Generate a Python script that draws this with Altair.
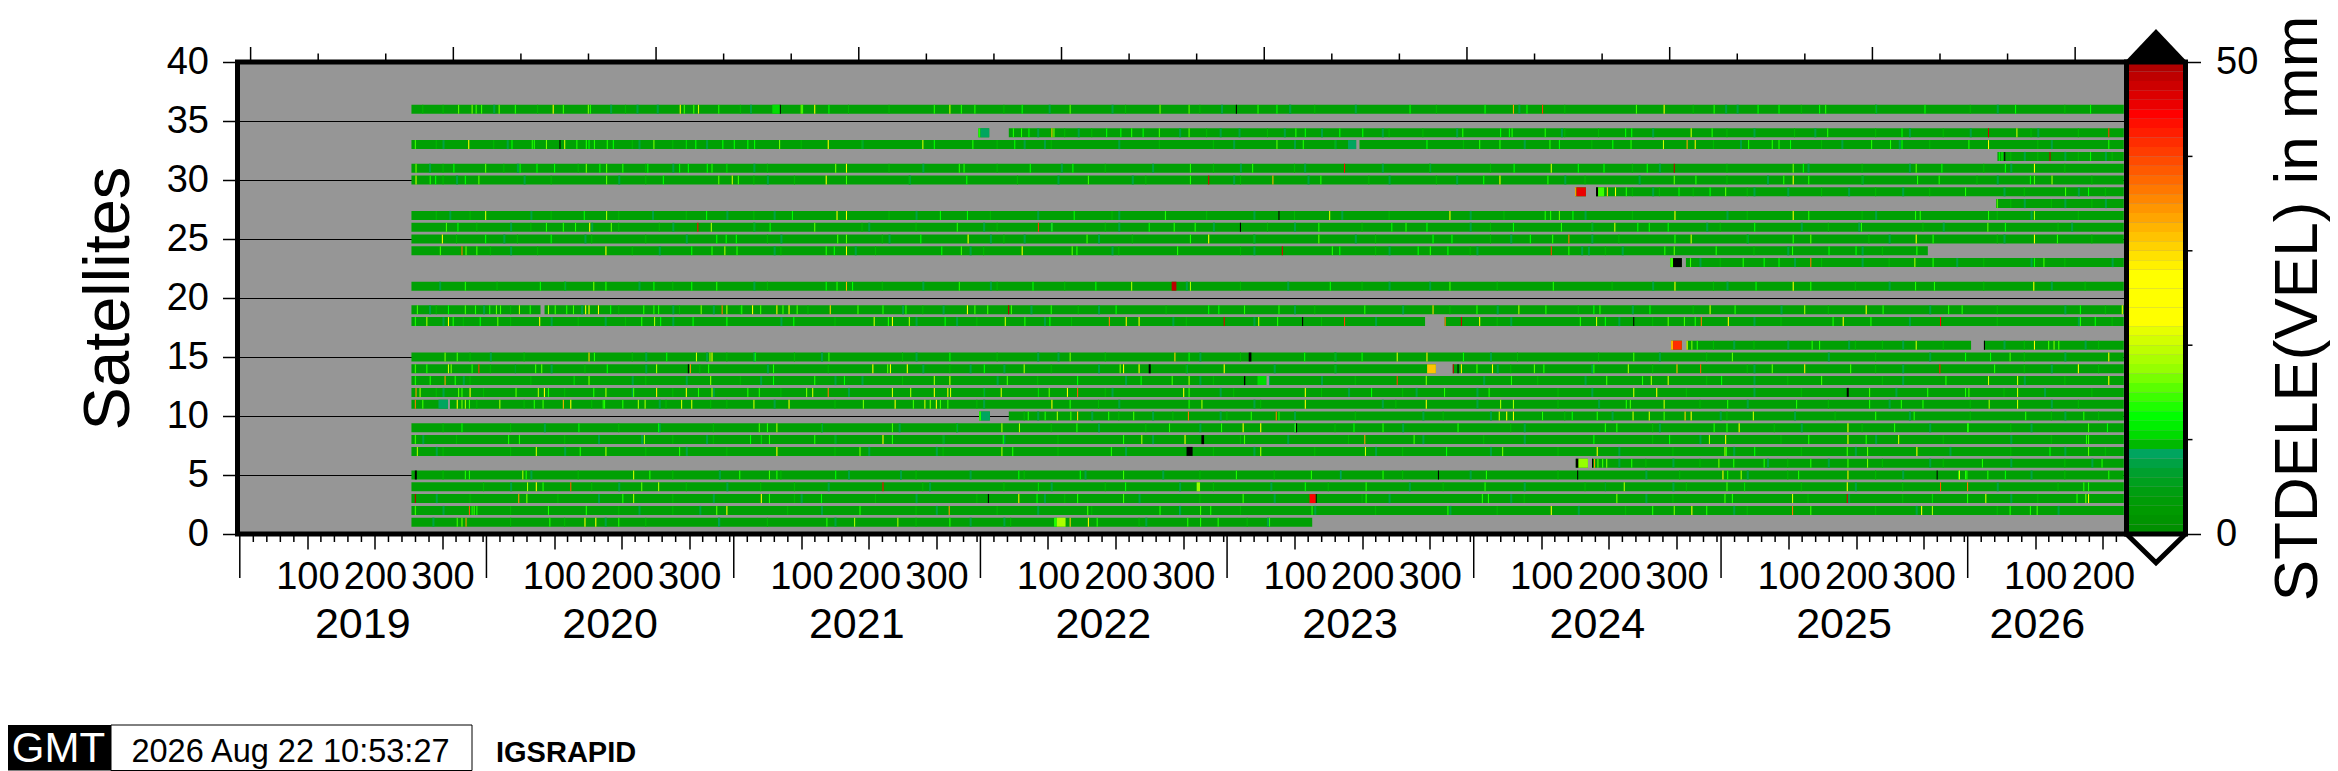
import altair as alt
import pandas as pd

FONT = "Liberation Sans"
LAST = 2788
FIRST = 254

colors = ["#009000","#009400","#009A00","#00A004","#00A010","#00A01E","#00A02E","#00A244","#00A55F","#00B900",
          "#00DC00","#00F000","#00FF00","#1EFF00","#3CFF00","#5AFF00","#78FF00","#96FF00","#AAFF00","#BEFF00",
          "#D2FF00","#E6FF00","#FFFF00","#FFFF00","#FFFF00","#FFFF00","#FFFF00","#FFFF00","#FFF000","#FFE100",
          "#FFD200","#FFC300","#FFB400","#FFA500","#FF9600","#FF8700","#FF7800","#FF6900","#FF5A00","#FF4B00",
          "#FF3C00","#FF2D00","#FF1E00","#FF0F00","#FF0000","#EB0000","#DC0000","#CD0000","#BE0000","#AF0000","#000000"]
thresholds = list(range(1, 51))

spans = {
    36: [(FIRST, LAST)], 34: [(1093, 1109), (1138, LAST)], 33: [(FIRST, 1652), (1657, LAST)], 32: [(2601, LAST)],
    31: [(FIRST, LAST)], 30: [(FIRST, LAST)], 29: [(1976, 1992), (2007, LAST)], 28: [(2599, LAST)],
    27: [(FIRST, LAST)], 26: [(FIRST, LAST)], 25: [(FIRST, LAST)], 24: [(FIRST, 2498)],
    23: [(2117, 2134), (2140, LAST)], 21: [(FIRST, LAST)], 19: [(FIRST, 445), (451, LAST)],
    18: [(FIRST, 1754), (1783, LAST)], 16: [(2118, 2134), (2141, 2562), (2581, LAST)], 15: [(FIRST, LAST)],
    14: [(FIRST, 1770), (1795, LAST)], 13: [(FIRST, 1519), (1523, LAST)], 12: [(FIRST, LAST)],
    11: [(FIRST, 308), (311, LAST)], 10: [(1094, 1110), (1138, LAST)], 9: [(FIRST, LAST)], 8: [(FIRST, LAST)],
    7: [(FIRST, LAST)], 6: [(1977, 1995), (2001, LAST)], 5: [(FIRST, LAST)], 4: [(FIRST, LAST)], 3: [(FIRST, LAST)],
    2: [(FIRST, LAST)], 1: [(FIRST, 1587)],
}

blocks = [
    (36, 788, 799, 10), (34, 1093, 1096, 13), (34, 1096, 1109, 8), (33, 1640, 1652, 8),
    (29, 1976, 1978, 33), (29, 1978, 1992, 45), (29, 2007, 2010, 53), (29, 2010, 2019, 14),
    (23, 2117, 2121, 14), (23, 2121, 2134, 54), (21, 1379, 1386, 48), (16, 2118, 2121, 32), (16, 2121, 2134, 41),
    (15, 1493, 1497, 53), (14, 1757, 1770, 31), (14, 1345, 1348, 53), (13, 1486, 1488, 53), (13, 1506, 1519, 10),
    (12, 2378, 2381, 53), (11, 294, 308, 8), (10, 1094, 1097, 13), (10, 1097, 1110, 8), (8, 1423, 1427, 53),
    (7, 1401, 1410, 53), (6, 1977, 1981, 53), (6, 1981, 1995, 17), (5, 259, 262, 53), (4, 1416, 1421, 17),
    (3, 1583, 1592, 44), (1, 1205, 1209, 13), (1, 1209, 1222, 18),
]

s36 = [(323,15),(343,16),(349,14),(357,14),(383,16),(407,13),(463,24),(478,14),(515,16),(518,13),(651,22),(657,14),(671,14),(678,20),(708,13),(799,52),(830,16),(832,14),(850,22),(871,12),(1027,13),(1050,20),(1067,13),(1087,13),(1157,12),(1228,15),(1361,16),(1404,15),(1474,50),(1506,13),(1534,12),(1553,7),(1731,12),(1842,12),(1884,33),(1904,12),(1927,40),(2066,14),(2107,22),(2181,13),(2246,12),(2277,12),(2337,12),(2346,13),(2493,12),(2627,12),(2738,12)]
s34 = [(1144,13),(1156,13),(1167,12),(1201,30),(1204,16),(1282,12),(1303,12),(1319,13),(1336,12),(1360,14),(1404,15),(1562,13),(1576,12),(1627,12),(1661,12),(1809,13),(1865,12),(1878,12),(1882,13),(1931,13),(2050,12),(2059,12),(2147,20),(2178,13),(2349,13),(2459,12),(2587,47),(2629,20),(2765,40)]
s33 = [(259,14),(338,25),(402,12),(432,13),(435,13),(453,16),(473,52),(480,20),(498,13),(512,13),(516,12),(524,13),(543,13),(552,12),(612,16),(660,10),(674,12),(714,12),(731,12),(751,12),(761,12),(798,16),(870,25),(1010,20),(1027,12),(1084,13),(1146,12),(1534,15),(1573,13),(1756,12),(1834,13),(1864,13),(1938,13),(1952,12),(2031,12),(2058,13),(2106,20),(2141,33),(2153,28),(2232,13),(2267,13),(2277,13),(2294,12),(2414,13),(2442,13),(2459,12),(2558,13),(2587,25),(2765,13)]
s32 = [(2603,12),(2607,12),(2611,52),(2678,48),(2738,12)]
s31 = [(260,16),(316,12),(363,15),(414,12),(439,12),(465,12),(512,16),(532,12),(542,15),(566,13),(603,12),(650,12),(663,12),(691,12),(698,13),(720,10),(881,16),(897,22),(1064,13),(1071,13),(1169,12),(1232,12),(1406,13),(1498,13),(1634,44),(1885,12),(1940,20),(1980,12),(2018,12),(2082,12),(2122,48),(2298,16),(2313,12),(2480,15),(2518,12),(2612,12),(2655,25)]
s30 = [(260,20),(281,13),(289,12),(333,12),(353,15),(542,15),(626,12),(708,15),(728,20),(737,14),(867,22),(897,14),(1075,12),(1255,14),(1406,13),(1433,46),(1528,32),(1599,13),(1840,12),(1864,24),(1935,13),(2122,15),(2154,13),(2284,13),(2298,26),(2321,13),(2482,13),(2514,13),(2649,12),(2655,14),(2681,18)]
s29 = [(2023,30),(2035,22),(2051,13),(2129,12),(2175,12),(2198,15),(2553,13),(2701,14),(2735,12)]
s28 = [(2600,15)]
s27 = [(363,20),(509,12),(542,18),(690,12),(817,12),(883,25),(897,24),(1036,12),(1076,12),(1234,12),(1369,13),(1537,52),(1612,20),(1790,22),(1931,13),(1939,13),(1952,15),(1972,12),(2123,26),(2298,26),(2321,13),(2479,13),(2486,13),(2587,13),(2655,18)]
s26 = [(305,14),(322,12),(453,13),(478,13),(496,13),(517,22),(549,15),(677,44),(697,18),(784,12),(850,15),(1061,13),(1181,40),(1201,13),(1345,12),(1382,13),(1413,13),(1480,52),(1596,13),(1704,12),(1725,13),(1756,12),(1884,12),(1955,13),(2034,20),(2068,12),(2085,12),(2113,12),(2241,12),(2399,13),(2586,15),(2612,12)]
s25 = [(299,24),(363,12),(460,12),(705,12),(719,12),(734,12),(884,14),(897,15),(1007,12),(1077,24),(1253,14),(1406,13),(1433,22),(1596,15),(1765,12),(1793,12),(1909,12),(1942,13),(1966,36),(2123,13),(2147,20),(2298,13),(2324,15),(2480,24),(2505,13),(2655,24),(2689,13)]
s24 = [(296,14),(328,36),(334,15),(350,14),(541,24),(668,12),(698,13),(717,18),(735,13),(867,13),(879,12),(897,22),(1038,12),(1067,14),(1157,24),(1231,15),(1238,13),(1387,13),(1542,46),(1616,13),(1627,12),(1743,12),(1761,13),(1787,12),(1940,40),(1966,13),(2108,13),(2122,15),(2184,13),(2297,13),(2351,12),(2391,12),(2481,13)]
s23 = [(2146,14),(2224,13),(2255,12),(2277,12),(2324,36),(2478,18),(2505,13),(2655,12),(2669,14)]
s21 = [(333,13),(444,12),(523,16),(541,13),(612,12),(668,12),(705,13),(867,12),(883,13),(897,32),(906,12),(1064,13),(1173,12),(1266,12),(1319,18),(1406,18),(1613,12),(1790,14),(1943,13),(2123,24),(2243,12),(2298,24),(2324,13),(2479,13),(2507,13),(2654,26)]
s19 = [(262,14),(308,12),(333,14),(348,13),(369,13),(379,15),(385,14),(413,18),(429,13),(456,18),(466,14),(483,13),(493,14),(511,24),(516,22),(530,24),(548,12),(597,13),(612,13),(619,13),(682,16),(713,36),(720,18),(742,13),(758,22),(770,14),(794,28),(803,14),(812,24),(824,14),(873,30),(914,14),(951,13),(985,13),(1076,24),(1087,14),(1106,14),(1137,48),(1141,14),(1200,13),(1296,12),(1433,12),(1448,12),(1486,13),(1537,13),(1664,13),(1765,30),(1830,13),(1892,18),(1932,13),(2003,12),(2012,13),(2086,12),(2175,20),(2212,13),(2315,18),(2406,22),(2431,13),(2528,13),(2548,13),(2723,12),(2785,22)]
s18 = [(259,13),(276,18),(308,24),(315,13),(355,12),(381,15),(443,22),(594,13),(613,18),(622,12),(670,12),(720,12),(819,12),(938,20),(959,13),(965,24),(990,18),(1043,12),(1132,20),(1161,13),(1198,12),(1286,36),(1311,28),(1330,24),(1456,46),(1507,20),(1535,13),(1572,52),(1634,40),(1783,36),(1807,47),(1834,22),(1983,13),(2007,20),(2020,12),(2062,50),(2113,15),(2137,14),(2153,13),(2162,36),(2202,22),(2357,13),(2372,24),(2413,13),(2516,44),(2723,13),(2745,12)]
s16 = [(2141,24),(2148,16),(2156,13),(2326,13),(2337,13),(2480,20),(2581,50),(2655,24),(2676,14),(2684,16),(2691,14)]
s15 = [(303,16),(321,14),(516,30),(524,13),(631,12),(675,20),(695,18),(698,22),(762,12),(871,14),(1050,12),(1228,16),(1383,30),(1404,12),(1575,12),(1660,12),(1712,20),(1756,28),(1810,12),(2062,14),(2208,15),(2553,12),(2590,12),(2619,14),(2765,22)]
s14 = [(259,14),(276,13),(308,20),(312,16),(343,13),(353,40),(407,6),(437,14),(446,15),(543,12),(616,18),(663,54),(666,34),(693,13),(789,13),(936,24),(958,15),(962,22),(987,24),(1101,12),(1160,18),(1302,16),(1307,24),(1330,22),(1456,26),(1795,48),(1802,52),(1807,28),(1830,14),(1853,26),(1915,15),(1929,13),(2003,13),(2054,18),(2126,32),(2161,38),(2267,15),(2315,28),(2383,14),(2515,42),(2596,13),(2720,24)]
s13 = [(259,13),(281,13),(303,34),(318,13),(494,10),(516,16),(696,17),(789,12),(850,13),(894,12),(1027,18),(1050,20),(1135,14),(1239,12),(1333,12),(1379,14),(1404,18),(1523,8),(1712,40),(1755,16),(1881,13),(2022,14),(2075,13),(2088,18),(2113,20),(2192,12),(2340,14),(2524,13),(2587,20),(2630,20),(2765,22)]
s12 = [(260,34),(266,18),(323,15),(328,14),(340,26),(408,15),(441,18),(450,22),(456,13),(523,13),(541,18),(582,14),(616,28),(660,22),(678,13),(698,18),(751,13),(768,13),(838,16),(847,20),(870,36),(965,20),(992,18),(1027,22),(1047,24),(1051,20),(1126,20),(1181,10),(1197,15),(1224,24),(1239,38),(1396,22),(1404,14),(1576,24),(1674,12),(1782,13),(1848,13),(2062,20),(2096,24),(2411,14),(2497,13),(2553,13),(2558,14),(2630,20)]
s11 = [(259,36),(270,14),(321,24),(328,16),(333,18),(339,14),(384,18),(435,13),(448,14),(478,32),(489,22),(537,13),(539,13),(566,13),(589,18),(599,18),(653,20),(668,20),(696,9),(760,20),(812,22),(922,16),(969,24),(996,14),(1013,20),(1021,16),(1030,22),(1036,14),(1047,14),(1201,26),(1228,13),(1404,13),(1423,18),(1576,22),(1755,26),(1865,18),(1884,18),(2051,13),(2057,14),(2107,20),(2201,13),(2303,13),(2411,13),(2458,13),(2490,13),(2588,18),(2630,20)]
s10 = [(1166,13),(1191,13),(1209,18),(1229,14),(1239,30),(1285,13),(1322,14),(1403,36),(1496,13),(1533,36),(1537,13),(1863,20),(1874,22),(1884,24),(1927,13),(1971,12),(2008,13),(2061,20),(2085,20),(2107,14),(2138,30),(2147,24),(2239,20),(2420,13),(2477,13),(2642,13),(2728,13)]
s9 = [(328,12),(501,12),(619,12),(768,14),(780,13),(794,18),(965,14),(1127,18),(1153,18),(1238,13),(1375,13),(1452,13),(1484,22),(1510,22),(1563,52),(1561,14),(1648,12),(1691,13),(1802,13),(2020,13),(2037,13),(2181,13),(2200,13),(2218,24),(2379,26),(2448,13),(2556,13),(2557,13),(2735,14),(2763,12)]
s8 = [(259,14),(397,13),(413,13),(594,7),(598,18),(755,12),(771,10),(783,13),(850,13),(951,22),(965,13),(1129,12),(1307,13),(1334,18),(1398,24),(1486,14),(1664,34),(1737,14),(2003,12),(2115,12),(2174,18),(2198,24),(2321,13),(2379,26),(2406,13),(2454,20),(2732,13),(2735,14)]
s7 = [(262,18),(438,20),(503,13),(541,18),(650,13),(794,24),(917,16),(1127,18),(1143,13),(1289,13),(1510,18),(1665,20),(1785,12),(1868,16),(2008,22),(2197,18),(2199,14),(2241,12),(2378,14),(2408,15),(2481,24),(2678,12),(2735,15)]
s6 = [(2001,52),(2004,34),(2009,15),(2016,14),(2022,16),(2059,13),(2188,16),(2210,13),(2255,13),(2324,13),(2379,14),(2408,16),(2578,13),(2755,13)]
s5 = [(333,13),(339,13),(418,18),(423,13),(582,20),(606,13),(709,7),(739,13),(783,14),(794,13),(881,12),(977,7),(1152,12),(1243,12),(1307,14),(1474,13),(1585,13),(1628,8),(1691,13),(1773,52),(1844,13),(1979,50),(2194,22),(2201,13),(2221,18),(2306,13),(2379,28),(2511,52),(2543,13),(2544,20),(2553,13),(2555,13),(2586,13),(2612,12),(2765,13)]
s4 = [(425,18),(438,22),(448,13),(489,38),(594,15),(619,18),(770,9),(951,44),(1181,10),(1310,12),(1576,12),(1666,13),(1842,13),(2020,6),(2048,18),(2200,14),(2226,10),(2378,26),(2516,38),(2556,36),(2728,13),(2735,13)]
s3 = [(259,48),(412,34),(424,16),(566,13),(582,18),(771,24),(783,13),(860,12),(1107,50),(1152,28),(1179,12),(1239,13),(1307,14),(1484,14),(1592,50),(1666,13),(1838,13),(1847,13),(2037,16),(2197,14),(2208,13),(2297,20),(2378,46),(2504,10),(2556,13),(2583,20),(2718,13),(2731,16),(2735,24)]
s2 = [(259,14),(339,38),(343,13),(346,14),(350,13),(456,13),(512,13),(705,15),(720,24),(917,13),(1049,34),(1254,14),(1361,13),(1390,8),(1421,14),(1436,13),(1586,13),(1787,13),(1940,24),(2090,13),(2122,16),(2148,24),(2170,13),(2297,36),(2324,14),(2488,22),(2504,18),(2619,13),(2649,13),(2659,14)]
s1 = [(321,14),(328,16),(334,34),(458,13),(510,24),(526,22),(560,13),(708,8),(868,13),(909,18),(973,18),(1050,13),(1228,30),(1255,22),(1268,13),(1402,13),(1421,13),(1447,13),(1523,13)]

stripes = {36: s36, 34: s34, 33: s33, 32: s32, 31: s31, 30: s30, 29: s29, 28: s28, 27: s27, 26: s26, 25: s25,
           24: s24, 23: s23, 21: s21, 19: s19, 18: s18, 16: s16, 15: s15, 14: s14, 13: s13, 12: s12, 11: s11,
           10: s10, 9: s9, 8: s8, 7: s7, 6: s6, 5: s5, 4: s4, 3: s3, 2: s2, 1: s1}

# slightly bluer, teal-tinted patches (start days)
teal = {
    36: [375, 548, 587, 617, 755, 1197, 1290, 1452, 1553, 1650, 1892, 2198, 2215, 2420, 2600],
    34: [1180, 1240, 1390, 1450, 1478, 1545, 1600, 1690, 1800, 1955, 2090, 2240, 2330, 2470, 2560, 2660],
    33: [300, 395, 590, 690, 920, 1160, 1190, 1300, 1470, 1560, 1620, 1900, 2220, 2370, 2455, 2680],
    32: [2640, 2700, 2760],
    31: [280, 410, 640, 760, 1010, 1215, 1350, 1480, 1575, 1690, 1760, 2100, 2320, 2470, 2620],
    30: [320, 420, 560, 780, 990, 1210, 1320, 1470, 1580, 1700, 1800, 1960, 2070, 2260, 2400, 2600],
    29: [2090, 2240, 2290, 2380, 2460, 2610, 2720],
    28: [2640, 2700, 2760],
    27: [310, 430, 610, 720, 790, 1000, 1180, 1300, 1500, 1630, 1820, 1990, 2200, 2420, 2650],
    26: [400, 520, 640, 760, 930, 1100, 1200, 1300, 1440, 1560, 1820, 2000, 2170, 2310, 2395, 2520, 2710],
    25: [390, 510, 660, 800, 960, 1110, 1160, 1270, 1500, 1650, 1880, 2000, 2230, 2440, 2610],
    24: [400, 620, 790, 910, 1080, 1290, 1500, 1700, 1830, 1985, 1995, 2045, 2290, 2400],
    23: [2160, 2300, 2400, 2540, 2650, 2770],
    21: [295, 480, 590, 760, 1010, 1110, 1400, 1550, 1700, 1760, 2090, 2200, 2440, 2680],
    19: [280, 360, 505, 640, 700, 980, 1040, 1170, 1270, 1560, 1720, 1860, 2060, 2280, 2500, 2700],
    18: [300, 460, 540, 640, 800, 1000, 1060, 1190, 1380, 1500, 1680, 1880, 2040, 2240, 2470, 2720],
    16: [2210, 2290, 2380, 2460, 2610, 2730],
    15: [370, 600, 690, 760, 860, 1000, 1180, 1210, 1420, 1620, 1850, 2100, 2350, 2500, 2700],
    14: [460, 600, 780, 1010, 1080, 1130, 1270, 1400, 1530, 1620, 1860, 2000, 2240, 2460, 2680],
    13: [330, 580, 660, 770, 880, 920, 1120, 1310, 1420, 1600, 1840, 1990, 2240, 2460, 2640],
    12: [300, 580, 700, 900, 1100, 1290, 1450, 1640, 1740, 1830, 2000, 2240, 2450, 2670],
    11: [620, 790, 1100, 1300, 1500, 1690, 1830, 2010, 2230, 2440, 2680],
    10: [1180, 1260, 1350, 1450, 1560, 1750, 1850, 2030, 2190, 2300, 2470, 2700],
    9: [450, 620, 860, 975, 1060, 1270, 1420, 1560, 1720, 1900, 2100, 2310, 2500, 2650],
    8: [270, 530, 594, 690, 880, 1040, 1130, 1350, 1550, 1750, 1900, 2160, 2420, 2620],
    7: [290, 480, 660, 930, 1030, 1310, 1500, 1680, 1850, 2040, 2210, 2390, 2530, 2700],
    6: [2040, 2120, 2260, 2350, 2500, 2620, 2740],
    5: [430, 709, 900, 977, 1080, 1250, 1365, 1628, 1820, 2080, 2230, 2460, 2650],
    4: [400, 560, 720, 870, 1020, 1200, 1390, 1525, 1730, 1900, 2120, 2390, 2600],
    3: [290, 530, 700, 830, 1000, 1190, 1330, 1530, 1700, 1880, 2080, 2380, 2620],
    2: [300, 590, 680, 860, 1030, 1180, 1390, 1590, 1790, 1980, 2210, 2480, 2690],
    1: [285, 540, 708, 880, 1080, 1130, 1340, 1520],
}
# faint lighter lines, a little brighter than the base green (days)
light = {
    36: [270, 300, 440, 570, 740, 900, 960, 1130, 1310, 1420, 1590, 1770, 1960, 2150, 2310, 2420, 2560, 2700],
    34: [1220, 1260, 1430, 1520, 1700, 1750, 1960, 2010, 2200, 2300, 2420, 2520, 2650, 2720],
    33: [290, 375, 580, 640, 830, 920, 1120, 1200, 1360, 1440, 1620, 1810, 2000, 2180, 2340, 2500, 2660],
    32: [2620, 2660, 2720, 2770],
    31: [300, 390, 500, 600, 780, 960, 1120, 1280, 1440, 1560, 1760, 1850, 2060, 2200, 2400, 2580, 2700],
    30: [300, 460, 600, 760, 820, 990, 1150, 1340, 1480, 1670, 1770, 1990, 2200, 2400, 2570, 2740],
    29: [2060, 2100, 2150, 2230, 2340, 2420, 2500, 2640, 2760],
    28: [2620, 2680, 2740],
    27: [290, 340, 460, 560, 660, 760, 960, 1110, 1290, 1430, 1560, 1700, 1870, 2060, 2230, 2400, 2600, 2720],
    26: [350, 430, 560, 620, 760, 920, 1000, 1120, 1280, 1520, 1660, 1850, 2000, 2190, 2350, 2490, 2690],
    25: [320, 410, 520, 600, 780, 950, 1130, 1320, 1500, 1680, 1850, 2040, 2230, 2410, 2600, 2740],
    24: [370, 440, 580, 800, 940, 1100, 1300, 1480, 1680, 1820, 2020, 2240, 2430],
    23: [2190, 2340, 2440, 2580, 2700],
    21: [380, 480, 640, 780, 950, 1120, 1220, 1480, 1660, 1860, 2030, 2180, 2390, 2580, 2730],
    19: [290, 400, 560, 650, 740, 840, 1010, 1240, 1370, 1590, 1790, 1980, 2150, 2350, 2600, 2760],
    18: [330, 400, 500, 570, 720, 880, 1090, 1230, 1400, 1600, 1860, 2090, 2280, 2600, 2770],
    16: [2180, 2240, 2390, 2430, 2520, 2640, 2750],
    15: [340, 420, 580, 720, 820, 980, 1120, 1280, 1480, 1620, 1890, 2010, 2170, 2420, 2640],
    14: [370, 510, 680, 870, 1050, 1200, 1400, 1620, 1880, 2090, 2230, 2420, 2640, 2750],
    13: [340, 430, 600, 740, 980, 1180, 1440, 1650, 1920, 2170, 2290, 2430, 2700],
    12: [290, 360, 480, 640, 800, 1100, 1280, 1470, 1600, 1720, 1950, 2140, 2310, 2610, 2740],
    11: [350, 420, 520, 630, 720, 880, 1090, 1270, 1510, 1710, 1950, 2160, 2350, 2560, 2720],
    10: [1160, 1300, 1380, 1460, 1650, 1780, 1960, 2200, 2360, 2560, 2680, 2750],
    9: [300, 400, 560, 700, 860, 1060, 1200, 1340, 1620, 1880, 2090, 2270, 2400, 2620],
    8: [320, 480, 640, 700, 880, 1040, 1210, 1480, 1640, 1840, 2090, 2280, 2520, 2680],
    7: [300, 400, 600, 720, 880, 1040, 1210, 1440, 1590, 1720, 1950, 2120, 2310, 2620, 2760],
    6: [2080, 2160, 2290, 2430, 2520, 2700],
    5: [300, 500, 640, 800, 1000, 1160, 1420, 1530, 1720, 1950, 2130, 2290, 2420, 2700],
    4: [360, 520, 660, 820, 1010, 1130, 1280, 1440, 1610, 1780, 1990, 2140, 2310, 2460, 2690],
    3: [340, 470, 640, 820, 940, 1090, 1220, 1420, 1660, 1900, 2120, 2320, 2460, 2660],
    2: [400, 560, 640, 810, 1000, 1120, 1260, 1480, 1680, 1860, 2050, 2230, 2420, 2600],
    1: [400, 480, 600, 780, 1000, 1140, 1330, 1490],
}

BASE_VALUE = 3
STRIPE_DAYS = 1.6
HALF = 0.38
TEAL_VALUE, TEAL_DAYS = 7, 3
LIGHT_VALUE, LIGHT_DAYS = 9, 1.5


def inside(sat, a, b):
    return any(lo <= a and b <= hi for lo, hi in spans[sat])


records = []
for sat, parts in spans.items():
    for a, b in parts:
        records.append(dict(sat=sat, start=a, end=b, value=BASE_VALUE))
for sat, days in teal.items():
    for day in days:
        if inside(sat, day, day + TEAL_DAYS):
            records.append(dict(sat=sat, start=day, end=day + TEAL_DAYS, value=TEAL_VALUE))
for sat, days in light.items():
    for day in days:
        if inside(sat, day, day + LIGHT_DAYS):
            records.append(dict(sat=sat, start=day, end=day + LIGHT_DAYS, value=LIGHT_VALUE))
for sat, items in stripes.items():
    for day, v in items:
        records.append(dict(sat=sat, start=day, end=min(day + STRIPE_DAYS, LAST), value=v))
for sat, a, b, v in blocks:
    records.append(dict(sat=sat, start=a, end=b, value=v))
cells = pd.DataFrame(records)
cells["lo"] = cells["sat"] - HALF
cells["hi"] = cells["sat"] + HALF

year_names = ["2019", "2020", "2021", "2022", "2023", "2024", "2025", "2026"]
year_starts = [0, 365, 731, 1096, 1461, 1826, 2192, 2557]
year_centers = [182, 548, 913, 1278, 1643, 2009, 2374, 2660]
doy_major = [100, 200, 300]
W, H = 1889, 472
XDOM = [-3.4, 2792]

major_days = [s + d for s in year_starts for d in doy_major if s + d < XDOM[1]]
minor_days = [s + d for s in year_starts for d in range(20, 366, 20) if d % 100 and s + d < XDOM[1]]
top_major = list(range(16, 2792, 300))
top_minor = [d for d in range(16, 2792, 100) if d not in top_major]

xs = alt.Scale(domain=XDOM, nice=False, zero=False)
ys = alt.Scale(domain=[0, 40], nice=False)
cs = alt.Scale(type="threshold", domain=thresholds, range=colors)

label_expr = ("format(datum.value - (datum.value >= 2557 ? 2557 : datum.value >= 2192 ? 2192 : datum.value >= 1826 ? 1826 : "
              "datum.value >= 1461 ? 1461 : datum.value >= 1096 ? 1096 : datum.value >= 731 ? 731 : datum.value >= 365 ? 365 : 0), 'd')")

x_axis = alt.Axis(values=major_days, labelExpr=label_expr, title=None, grid=False, domain=False, tickSize=15, tickWidth=1.5,
                  tickColor="black", labelFontSize=38, labelFont=FONT, labelColor="black", labelPadding=9, labelFlush=False,
                  labelOverlap=False, labelBound=False)
y_axis = alt.Axis(values=[0, 5, 10, 15, 20, 25, 30, 35, 40], title="Satellites", titleFont=FONT, titleFontSize=65,
                  titleFontWeight="normal", titleColor="black", titleX=-109.5, titleY=236, titleBaseline="alphabetic",
                  titleAngle=270, grid=True, gridColor="black", gridWidth=1.2, gridOpacity=1, domain=False, tickSize=15, tickWidth=1.5,
                  tickColor="black", labelFontSize=38, labelFont=FONT, labelColor="black", labelPadding=14, labelOverlap=False,
                  labelBound=False, labelFlush=False)

cell_layer = alt.Chart(cells).mark_rect(strokeWidth=0).encode(
    x=alt.X("start:Q", scale=xs, axis=x_axis),
    x2="end:Q",
    y=alt.Y("lo:Q", scale=ys, axis=y_axis),
    y2="hi:Q",
    color=alt.Color("value:Q", scale=cs, legend=None),
)


def tick_rules(days, y0, y1, width=1.5):
    return alt.Chart(pd.DataFrame({"d": days})).mark_rule(color="black", strokeWidth=width).encode(
        x=alt.X("d:Q", scale=xs, axis=x_axis), y=alt.value(y0), y2=alt.value(y1))


minor_bottom = tick_rules(minor_days, H, H + 8)
year_ticks = tick_rules(year_starts, H, H + 44)
top_a = tick_rules(top_major, 0, -15)
top_b = tick_rules(top_minor, 0, -8.5)

year_text = alt.Chart(pd.DataFrame({"d": year_centers, "t": year_names})).mark_text(
    font=FONT, fontSize=43, color="black", align="center", baseline="alphabetic").encode(
    x=alt.X("d:Q", scale=xs, axis=x_axis), y=alt.value(H + 104), text="t:N")

frame = alt.Chart(pd.DataFrame({"a": [0]})).mark_rect(filled=False, stroke="black", strokeWidth=5).encode(
    x=alt.value(0), x2=alt.value(W), y=alt.value(0), y2=alt.value(H))


def box(x0, x1, fill, stroke_w=0):
    return alt.Chart(pd.DataFrame({"a": [0]})).mark_rect(fill=fill, stroke="black", strokeWidth=stroke_w).encode(
        x=alt.value(x0), x2=alt.value(x1), y=alt.value(663), y2=alt.value(708.5))


def foot_text(t, x, size, color="black", weight="normal", align="left", baseline=699.5):
    return alt.Chart(pd.DataFrame({"t": [t]})).mark_text(font=FONT, fontSize=size, color=color, fontWeight=weight,
                                                           align=align, baseline="alphabetic").encode(
        x=alt.value(x), y=alt.value(baseline), text="t:N")


logo_box = box(-229.5, -126.5, "black")
stamp_box = box(-126.5, 234.5, "white", 1)
logo = foot_text("GMT", -179, 42, color="white", align="center", baseline=700)
stamp = foot_text("2026 Aug 22 10:53:27", 53, 32.5, align="center")
run_name = foot_text("IGSRAPID", 258.5, 29, weight="bold")

main = alt.layer(cell_layer, minor_bottom, year_ticks, top_a, top_b, year_text, frame,
                 logo_box, stamp_box, logo, stamp, run_name).properties(width=W, height=H)

# colour bar
CW = 59
bands = pd.DataFrame({"lo": list(range(50)), "hi": list(range(1, 51)), "c": ["#009000","#009400","#009A00","#009C06","#009E10"] + colors[5:50]})
bs = alt.Scale(domain=[0, 50], nice=False)
bx = alt.Scale(domain=[0, 1], nice=False, zero=False)
cb_axis = alt.Axis(values=[0, 50], title="STDELE(VEL) in mm", titleFont=FONT, titleFontSize=62, titleFontWeight="normal",
                   titleColor="black", titleAngle=270, titleBaseline="alphabetic", titleX=130.5, titleY=246, grid=False,
                   domain=False, tickSize=15, tickWidth=1.5, tickColor="black", labelFontSize=38, labelFont=FONT,
                   labelColor="black", labelPadding=15, labelOverlap=False, labelBound=False, labelFlush=False, orient="right")
band_layer = alt.Chart(bands).mark_rect(strokeWidth=0).encode(
    x=alt.value(0), x2=alt.value(CW),
    y=alt.Y("lo:Q", scale=bs, axis=cb_axis), y2="hi:Q",
    color=alt.Color("c:N", scale=None, legend=None),
)
short = alt.Chart(pd.DataFrame({"v": [10, 20, 30, 40]})).mark_rule(color="black", strokeWidth=1.5).encode(
    y=alt.Y("v:Q", scale=bs, axis=cb_axis), x=alt.value(CW), x2=alt.value(CW + 7))
cap_top = alt.Chart(pd.DataFrame({"x": [-0.03, 0.5, 1.03], "y": [50, 53.5, 50], "b": [50, 50, 50]})).mark_area(color="black").encode(
    x=alt.X("x:Q", scale=bx, axis=None), y=alt.Y("y:Q", scale=bs, axis=cb_axis), y2="b:Q")
cap_bottom = alt.Chart(pd.DataFrame({"x": [0.0, 0.5, 1.0], "y": [0, -3.05, 0]})).mark_line(color="black", strokeWidth=5, strokeJoin="miter").encode(
    x=alt.X("x:Q", scale=bx, axis=None), y=alt.Y("y:Q", scale=bs, axis=cb_axis))
cb_frame = alt.Chart(pd.DataFrame({"a": [0]})).mark_rect(filled=False, stroke="black", strokeWidth=5).encode(
    x=alt.value(0), x2=alt.value(CW), y=alt.value(0), y2=alt.value(H))
cbar = alt.layer(band_layer, short, cap_top, cap_bottom, cb_frame).properties(width=CW, height=H)

chart = alt.hconcat(main, cbar, spacing=0, bounds="flush").resolve_scale(color="independent").properties(
    padding={"left": 229.5, "top": 54, "right": 2092.5, "bottom": 709},
    autosize=alt.AutoSizeParams(type="none"),
    background="white",
).configure_view(fill="#969696", stroke=None)

chart.save("out.html", embed_options={"renderer": "svg", "actions": False})
